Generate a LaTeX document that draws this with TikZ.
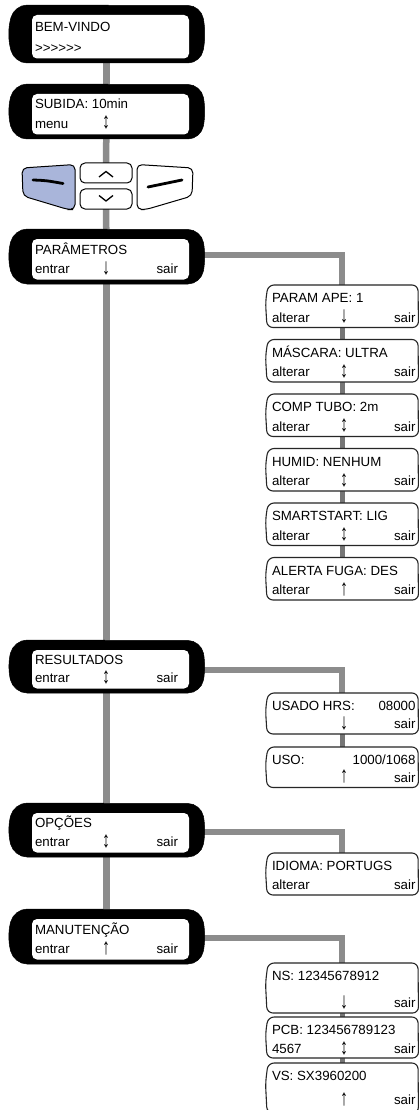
\documentclass[tikz,border=0pt]{standalone}
\usepackage{fontspec}
\usepackage{graphicx}
\setmainfont{Liberation Sans}
\usetikzlibrary{calc}
\pgfdeclarelayer{paper}
\pgfdeclarelayer{bg}
\pgfsetlayers{paper,bg,main}
\definecolor{connc}{HTML}{8C8C8C}
\definecolor{subc}{HTML}{767676}
\definecolor{btnblue}{HTML}{A9B5DA}
\newcommand\arw[1]{\scalebox{1.2}[1.7]{#1}}
\tikzset{
  conn/.style={connc, line width=6.5pt},
  subconn/.style={subc, line width=5pt},
  framenode/.style={rectangle, draw=none, inner sep=0pt, outer sep=0pt, minimum width=198pt},
  subnode/.style={rectangle, draw=none, inner sep=0pt, outer sep=0pt, minimum width=152pt},
  btnnode/.style={rectangle, draw=none, inner sep=0pt, outer sep=0pt},
  txt/.style={inner sep=0pt, outer sep=0pt, font=\fontsize{13.3}{15}\selectfont, text=black},
  frameshape/.style={fill=black, draw=black, line width=0.5pt, rounded corners=13pt},
  screenshape/.style={fill=white, draw=none, rounded corners=5pt},
  boxshape/.style={fill=white, draw=black!85, line width=1.1pt, rounded corners=6pt},
  btnshape/.style={draw=black, line width=1pt, rounded corners=5pt},
  dashmark/.style={line width=2.8pt, line cap=round},
  chev/.style={line width=1.3pt},
}
% #1 name, #2 top, #3 height, #4 line1, #5 left, #6 arrow, #7 right
\newcommand\mainscreen[7]{%
  \begin{scope}[shift={(0,#2)}]
    \node[framenode, minimum height=#3pt] (#1) at (106.5,{#3/2}) {};
    \draw[frameshape] (14,0) -- (201,0.5) -- (206,{#3/2}) -- (201,#3) -- (14,#3) -- (7,{#3/2}) -- cycle;
    \draw[screenshape] (32,10) rectangle (189,{#3-4.5});
    \node[txt, anchor=base west] (#1-l1) at (35,{#3/2-2.5}) {#4};
    \node[txt, anchor=base west] (#1-l2) at (35,{#3-10.5}) {#5};
    \node[txt, anchor=base] (#1-ar) at (106,{#3-10}) {\arw{#6}};
    \node[txt, anchor=base east] (#1-r) at (178,{#3-10.5}) {#7};
  \end{scope}}
\newcommand\subscreen[8][0]{%
  \begin{scope}[shift={(0,#3)}]
    \node[subnode, minimum height=#4pt] (#2) at (342,{#4/2}) {};
    \draw[boxshape] (268,0) -- (418,0) -- (418.5,#4) -- (267,#4) -- (265.5,{#4*0.4}) -- cycle;
    \node[txt, anchor=base west] (#2-l1) at (272,17.5) {#5};
    \node[txt, anchor=base west] (#2-l2) at (272,{#4-5.5-#1}) {#6};
    \node[txt, anchor=base] (#2-ar) at (344,{#4-5-#1}) {\arw{#7}};
    \node[txt, anchor=base east] (#2-r) at (415.5,{#4-5.5-#1}) {#8};
  \end{scope}}
\begin{document}
\begin{tikzpicture}[x=1pt,y=-1pt]
\useasboundingbox (0,0) rectangle (419,1110);
\begin{pgfonlayer}{paper}
\fill[white] (0,0) rectangle (419,1110);
\end{pgfonlayer}

% left column screens
\mainscreen{bem}{5}{58}{BEM-VINDO}{>\kern0pt>\kern0pt>\kern0pt>\kern0pt>\kern0pt>}{}{}
\mainscreen{sub}{84}{55}{SUBIDA: 10min}{menu}{↕}{}
\mainscreen{par}{229}{55}{PARÂMETROS}{entrar}{↓}{sair}
\mainscreen{res}{640}{53}{RESULTADOS}{entrar}{↕}{sair}
\mainscreen{opc}{803}{54}{OPÇÕES}{entrar}{↕}{sair}
\mainscreen{man}{909}{55}{MANUTENÇÃO}{entrar}{↑}{sair}

% buttons
\node[btnnode, minimum width=53pt, minimum height=45pt] (btnL) at (48.5,187) {};
\node[btnnode, minimum width=52pt, minimum height=20pt] (btnU) at (106,173) {};
\node[btnnode, minimum width=52pt, minimum height=20pt] (btnD) at (106,199) {};
\node[btnnode, minimum width=56pt, minimum height=45pt] (btnR) at (165,187) {};
\draw[btnshape, fill=btnblue] (22,168) -- (75,164.5) -- (75,209.5) -- (68,209.5) -- (23,196) -- cycle;
\draw[dashmark] (33,180) .. controls (46,180.5) .. (63,183.5);
\draw[btnshape, fill=white] (80,163) rectangle (132,183);
\draw[chev] (99,177) -- (106,171.5) -- (113,177);
\draw[btnshape, fill=white] (80,189) rectangle (132,209);
\draw[chev] (99,195.5) -- (106,201) -- (113,195.5);
\draw[btnshape, fill=white] (137,164.5) -- (193,168) -- (192,196) -- (146,209.5) -- (137,209.5) -- cycle;
\draw[dashmark] (148,187) .. controls (165,184) .. (182,180);

% right boxes
\subscreen{pa}{285}{42.5}{PARAM APE: 1}{alterar}{↓}{sair}
\subscreen{mas}{339.5}{42.5}{MÁSCARA: ULTRA}{alterar}{↕}{sair}
\subscreen{comp}{394}{42.5}{COMP TUBO: 2m}{alterar}{↕}{sair}
\subscreen{hum}{448.5}{42.5}{HUMID: NENHUM}{alterar}{↕}{sair}
\subscreen{smart}{503}{42.5}{SMARTSTART: LIG}{alterar}{↕}{sair}
\subscreen{alert}{557.5}{42.5}{ALERTA FUGA: DES}{alterar}{↑}{sair}
\subscreen{usado}{693}{41}{USADO HRS:}{}{↓}{sair}
\node[txt, anchor=base east] (usado-r1) at (415.5,710.5) {08000};
\subscreen{uso}{747}{40.5}{USO:}{}{↑}{sair}
\node[txt, anchor=base east] (uso-r1) at (415.5,764.5) {1000/1068};
\subscreen{idi}{853}{42}{IDIOMA: PORTUGS}{alterar}{}{sair}
\subscreen{ns}{963}{50}{NS: 12345678912}{}{↓}{sair}
\subscreen[-1]{pcb}{1017}{41}{PCB: 123456789123}{4567}{↕}{sair}
\subscreen[3]{vs}{1063}{50}{VS: SX3960200}{}{↑}{sair}

% connectors
\begin{pgfonlayer}{bg}
  \draw[conn] (bem) -- (sub);
  \draw[conn] (sub) -- (btnU);
  \draw[conn] (btnD) -- (par);
  \draw[conn] (par) -- (res);
  \draw[conn] (res) -- (opc);
  \draw[conn] (opc) -- (man);
  \draw[conn] ([yshift=-26pt]par.north) -| (pa.north);
  \draw[conn] ([yshift=-30pt]res.north) -| (usado.north);
  \draw[conn] ([yshift=-29pt]opc.north) -| (idi.north);
  \draw[conn] ([yshift=-29pt]man.north) -| (ns.north);
  \draw[subconn] (pa) -- (mas);
  \draw[subconn] (mas) -- (comp);
  \draw[subconn] (comp) -- (hum);
  \draw[subconn] (hum) -- (smart);
  \draw[subconn] (smart) -- (alert);
  \draw[subconn] (usado) -- (uso);
  \draw[subconn] (ns) -- (pcb);
  \draw[subconn] (pcb) -- (vs);
\end{pgfonlayer}
\end{tikzpicture}
\end{document}
